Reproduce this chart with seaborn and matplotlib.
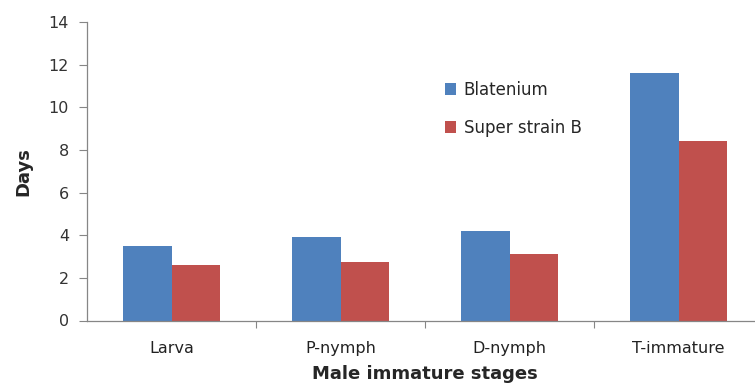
import matplotlib
matplotlib.use("Agg")
import matplotlib.pyplot as plt
import seaborn as sns
import pandas as pd
from matplotlib.ticker import FixedLocator

stages = ["Larva", "P-nymph", "D-nymph", "T-immature"]
blatenium = [3.5, 3.9, 4.2, 11.6]
super_strain_b = [2.6, 2.75, 3.1, 8.4]
series_names = ["Blatenium", "Super strain B"]
y_ticks = [0, 2, 4, 6, 8, 10, 12, 14]

df = pd.DataFrame({
    "stage": stages * 2,
    "days": blatenium + super_strain_b,
    "series": [series_names[0]] * len(stages) + [series_names[1]] * len(stages),
})

sns.set_theme(style="white")
plt.rcParams["font.family"] = ["DejaVu Sans"]

fig = plt.figure(figsize=(7.55, 3.87), dpi=100)
ax = fig.add_axes([87 / 755, 66.5 / 387, 676 / 755, 298.5 / 387])

sns.barplot(data=df, x="stage", y="days", hue="series", order=stages,
            hue_order=series_names, palette=["#4F81BD", "#C0504D"],
            width=0.57, saturation=1, linewidth=0, ax=ax, legend=True)

ax.set_ylim(0, 14)
ax.set_xlim(-0.5, 3.5)
ax.set_yticks(y_ticks)
ax.set_yticklabels([str(t) for t in y_ticks], fontsize=11.5, color="#333333")

# category labels sit in the middle, tick marks sit on the boundaries
ax.set_xticks(range(len(stages)))
ax.set_xticklabels(stages, fontsize=11.5, color="#222222")
ax.tick_params(axis="x", which="major", length=0, pad=15)
ax.xaxis.set_minor_locator(FixedLocator([0.5, 1.5, 2.5]))
ax.tick_params(axis="x", which="minor", length=5, width=0.8,
               color="#868686", direction="out", bottom=True)
ax.tick_params(axis="y", length=6, width=0.8, color="#868686",
               direction="out", left=True, pad=7)

for side in ["top", "right"]:
    ax.spines[side].set_visible(False)
for side in ["left", "bottom"]:
    ax.spines[side].set_color("#868686")
    ax.spines[side].set_linewidth(0.9)

ax.set_ylabel("Days", fontsize=13, fontweight="bold", labelpad=12)
ax.set_xlabel("Male immature stages", fontsize=13, fontweight="bold", labelpad=6)

leg = ax.legend(loc="upper left", bbox_to_anchor=(0.52, 0.825), frameon=False,
                fontsize=12, handlelength=0.65, handleheight=0.65,
                handletextpad=0.45, labelspacing=1.2, borderaxespad=0)

fig.savefig("out.png", dpi=100)
